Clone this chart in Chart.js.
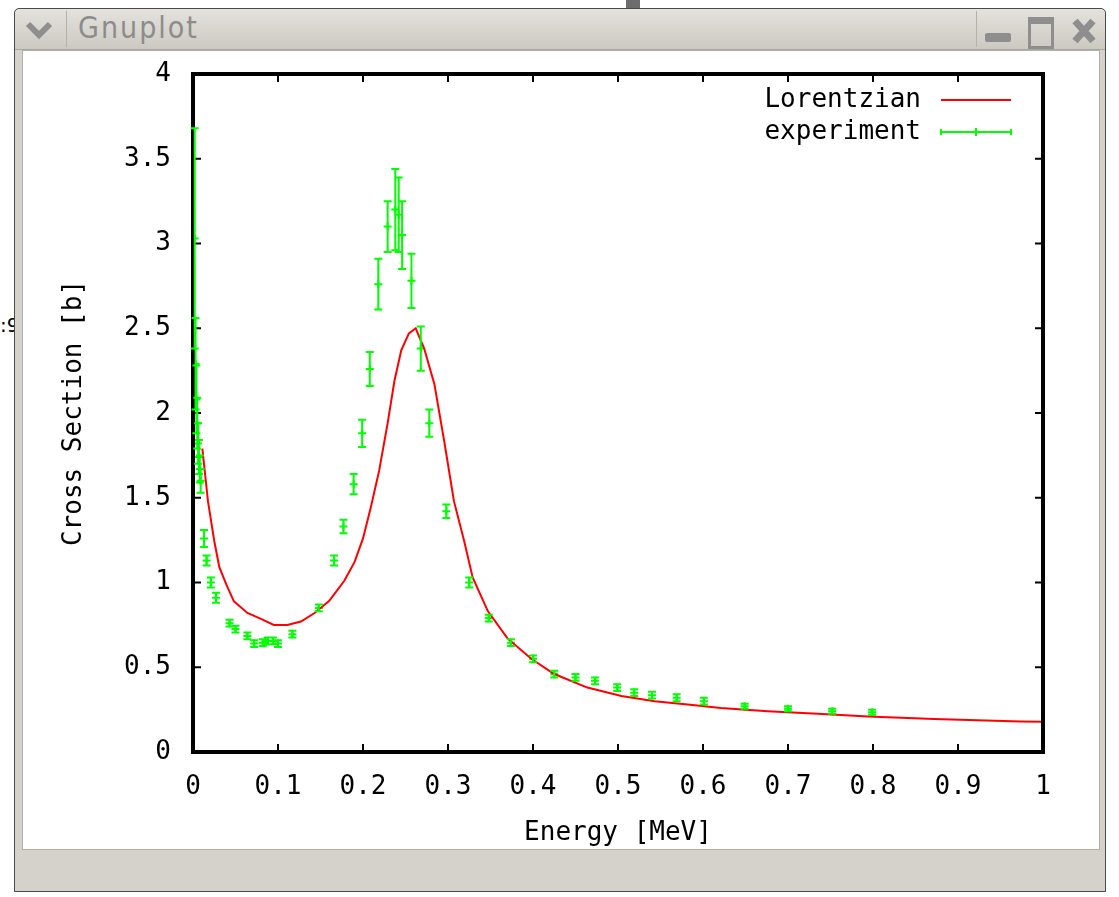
<!DOCTYPE html>
<html>
<head>
<meta charset="utf-8">
<title>Gnuplot</title>
<script src="https://cdn.jsdelivr.net/npm/chart.js@4.4.1/dist/chart.umd.min.js"></script>
<style>
  body { margin: 0; width: 1119px; height: 897px; overflow: hidden; background: #fff; position: relative; font-family: "DejaVu Sans", sans-serif; }
  #win { position: absolute; left: 14px; top: 8px; width: 1092px; height: 884px; background: #d5d2cb; border: 1px solid #4a4a4a; border-radius: 5px 5px 0 0; box-sizing: border-box; }
  #bar { position: absolute; left: 0; top: 0; right: 0; height: 40px; background: linear-gradient(#e4e2dd, #ccc9c1); border-bottom: 1px solid #a9a69f; border-radius: 5px 5px 0 0; }
  #bar .title { position: absolute; left: 63px; top: 1px; font-size: 30px; letter-spacing: 2px; color: #8c8c8c; font-family: "DejaVu Sans Condensed", "DejaVu Sans", sans-serif; }
  #bar .sep { position: absolute; top: 2px; width: 1px; height: 36px; background: #b4b1aa; }
  #client { position: absolute; left: 7px; top: 41px; width: 1076px; height: 798px; background: #fff; border: 1px solid #b3b0a9; }
  #side { position: absolute; left: 0; top: 313px; font-size: 20px; color: #000; }
</style>
</head>
<body>
<div id="side">:9</div>
<div style="position:absolute;left:626px;top:0;width:14px;height:8px;background:#6d6d6d"></div>
<div id="win">
  <div id="bar">
    <svg style="position:absolute;left:10px;top:11px" width="28" height="20"><path d="M3 4 L14 15 L25 4" fill="none" stroke="#8e8e8e" stroke-width="6"/></svg>
    <div class="sep" style="left:51px"></div>
    <div class="title">Gnuplot</div>
    <div class="sep" style="left:961px"></div>
    <div style="position:absolute;left:970px;top:24px;width:26px;height:9px;background:#8e8e8e;border-radius:2px"></div>
    <div style="position:absolute;left:1013px;top:8px;width:20px;height:22px;border:3px solid #8e8e8e;border-top-width:7px"></div>
    <svg style="position:absolute;left:1056px;top:8px" width="26" height="28"><path d="M4 4 L22 24 M22 4 L4 24" stroke="#8e8e8e" stroke-width="7"/></svg>
  </div>
  <div id="client"><canvas id="plot" width="1076" height="798"></canvas></div>
</div>
<script>
// Lorentzian fit curve
const lorX = [0.011, 0.0176, 0.025, 0.031, 0.039, 0.048, 0.064, 0.08, 0.095, 0.111, 0.127, 0.143, 0.16, 0.166,
  0.178, 0.19, 0.2, 0.209, 0.219, 0.229, 0.237, 0.245, 0.254, 0.262, 0.272, 0.284, 0.296, 0.307, 0.319, 0.329,
  0.347, 0.37, 0.398, 0.425, 0.464, 0.504, 0.543, 0.582, 0.621, 0.676, 0.735, 0.794, 0.872, 0.974, 1.0];
const lorY = [1.79, 1.48, 1.245, 1.09, 0.99, 0.89, 0.82, 0.785, 0.75, 0.75, 0.77, 0.82, 0.89, 0.93,
  1.01, 1.12, 1.26, 1.44, 1.66, 1.94, 2.19, 2.37, 2.47, 2.5, 2.38, 2.17, 1.82, 1.48, 1.245, 1.03,
  0.83, 0.67, 0.55, 0.46, 0.38, 0.33, 0.30, 0.28, 0.26, 0.24, 0.225, 0.21, 0.195, 0.18, 0.178];

// experiment: energy, cross section, error
const expX = [0.002, 0.003, 0.004, 0.005, 0.006, 0.007, 0.008, 0.009, 0.013, 0.016, 0.021, 0.027, 0.043, 0.05,
  0.064, 0.072, 0.082, 0.088, 0.094, 0.1, 0.117, 0.148, 0.166, 0.177, 0.189, 0.199, 0.208, 0.218, 0.229,
  0.238, 0.242, 0.246, 0.257, 0.268, 0.278, 0.298, 0.325, 0.348, 0.374, 0.4, 0.425, 0.45, 0.473, 0.499,
  0.519, 0.54, 0.569, 0.601, 0.649, 0.7, 0.752, 0.799];
const expY = [3.03, 2.29, 2.08, 1.94, 1.82, 1.74, 1.67, 1.6, 1.26, 1.13, 1.0, 0.91, 0.76, 0.725,
  0.685, 0.64, 0.645, 0.655, 0.655, 0.64, 0.695, 0.85, 1.13, 1.33, 1.58, 1.88, 2.26, 2.76, 3.1,
  3.2, 3.17, 3.05, 2.78, 2.38, 1.94, 1.42, 1.0, 0.79, 0.645, 0.55, 0.46, 0.44, 0.42, 0.38,
  0.35, 0.335, 0.32, 0.3, 0.27, 0.255, 0.24, 0.235];
const expErr = [0.65, 0.27, 0.2, 0.15, 0.12, 0.1, 0.08, 0.07, 0.05, 0.03, 0.03, 0.03, 0.02, 0.02,
  0.02, 0.02, 0.02, 0.02, 0.02, 0.02, 0.02, 0.02, 0.03, 0.04, 0.06, 0.08, 0.1, 0.15, 0.15,
  0.24, 0.22, 0.2, 0.16, 0.13, 0.08, 0.04, 0.03, 0.02, 0.02, 0.02, 0.02, 0.02, 0.02, 0.02,
  0.02, 0.02, 0.02, 0.02, 0.015, 0.015, 0.015, 0.015];

const xTicks = ['0', '0.1', '0.2', '0.3', '0.4', '0.5', '0.6', '0.7', '0.8', '0.9', '1'];
const yTicks = ['0', '0.5', '1', '1.5', '2', '2.5', '3', '3.5', '4'];

const FONT = '"DejaVu Sans Mono", "Liberation Mono", monospace';
const RED = '#ff0000';
const GREEN = '#00ff00';

// border with inward ticks (gnuplot style)
const framePlugin = {
  id: 'frame',
  afterDatasetsDraw(chart) {
    const { ctx, chartArea: a, scales: { x, y } } = chart;
    ctx.save();
    ctx.strokeStyle = '#000';
    ctx.lineWidth = 2;
    ctx.beginPath();
    x.ticks.forEach(t => {
      const px = x.getPixelForValue(t.value);
      ctx.moveTo(px, a.bottom); ctx.lineTo(px, a.bottom - 8);
      ctx.moveTo(px, a.top); ctx.lineTo(px, a.top + 8);
    });
    y.ticks.forEach(t => {
      const py = y.getPixelForValue(t.value);
      ctx.moveTo(a.left, py); ctx.lineTo(a.left + 8, py);
      ctx.moveTo(a.right, py); ctx.lineTo(a.right - 8, py);
    });
    ctx.stroke();
    ctx.lineWidth = 4;
    ctx.strokeRect(a.left, a.top, a.right - a.left, a.bottom - a.top);
    ctx.restore();
  }
};

// vertical error bars for the experiment set
const errorBarPlugin = {
  id: 'errorbars',
  afterDatasetsDraw(chart) {
    const { ctx, scales: { y } } = chart;
    const meta = chart.getDatasetMeta(1);
    ctx.save();
    ctx.strokeStyle = GREEN;
    ctx.lineWidth = 2;
    ctx.beginPath();
    meta.data.forEach((pt, i) => {
      const top = y.getPixelForValue(expY[i] + expErr[i]);
      const bot = y.getPixelForValue(expY[i] - expErr[i]);
      ctx.moveTo(pt.x, top); ctx.lineTo(pt.x, bot);
      ctx.moveTo(pt.x - 4, top); ctx.lineTo(pt.x + 4, top);
      ctx.moveTo(pt.x - 4, bot); ctx.lineTo(pt.x + 4, bot);
    });
    ctx.stroke();
    ctx.restore();
  }
};

// key in the top right corner
const keyPlugin = {
  id: 'gnukey',
  afterDraw(chart) {
    const { ctx, chartArea: a } = chart;
    const ds = chart.data.datasets;
    ctx.save();
    ctx.font = '26px ' + FONT;
    ctx.fillStyle = '#000';
    ctx.textAlign = 'right';
    ctx.textBaseline = 'middle';
    ds.forEach((d, i) => {
      const ly = a.top + 26 + i * 32;
      ctx.fillText(d.label, a.right - 122, ly);
      ctx.strokeStyle = d.borderColor;
      ctx.lineWidth = 2;
      ctx.beginPath();
      ctx.moveTo(a.right - 102, ly); ctx.lineTo(a.right - 32, ly);
      if (i === 1) {
        ctx.moveTo(a.right - 102, ly - 3); ctx.lineTo(a.right - 102, ly + 3);
        ctx.moveTo(a.right - 32, ly - 3); ctx.lineTo(a.right - 32, ly + 3);
        ctx.moveTo(a.right - 67, ly - 4); ctx.lineTo(a.right - 67, ly + 4);
      }
      ctx.stroke();
    });
    ctx.restore();
  }
};

new Chart(document.getElementById('plot'), {
  type: 'scatter',
  data: {
    datasets: [{
      label: 'Lorentzian',
      data: lorX.map((v, i) => ({ x: v, y: lorY[i] })),
      showLine: true,
      borderColor: RED,
      borderWidth: 2,
      pointRadius: 0,
      tension: 0
    }, {
      label: 'experiment',
      data: expX.map((v, i) => ({ x: v, y: expY[i] })),
      showLine: false,
      pointStyle: 'cross',
      pointRadius: 4,
      borderColor: GREEN,
      backgroundColor: GREEN,
      borderWidth: 2
    }]
  },
  options: {
    responsive: false,
    animation: false,
    layout: { padding: { left: 0, top: 23, right: 56, bottom: 0 } },
    plugins: { legend: { display: false }, tooltip: { enabled: false } },
    scales: {
      x: {
        type: 'linear', min: 0, max: 1,
        afterFit: s => { s.height = 97; },
        afterBuildTicks: s => { s.ticks = xTicks.map(v => ({ value: parseFloat(v) })); },
        grid: { display: false, drawTicks: false },
        border: { display: false },
        ticks: { padding: 20, color: '#000', font: { family: FONT, size: 26 }, callback: (v, i) => xTicks[i] },
        title: { display: true, text: 'Energy [MeV]', color: '#000', padding: { top: 0, bottom: 0 }, font: { family: FONT, size: 26 } }
      },
      y: {
        type: 'linear', min: 0, max: 4,
        afterFit: s => { s.width = 170; s.paddingTop = 0; s.paddingBottom = 0; },
        afterBuildTicks: s => { s.ticks = yTicks.map(v => ({ value: parseFloat(v) })); },
        grid: { display: false, drawTicks: false },
        border: { display: false },
        ticks: { padding: 22, color: '#000', font: { family: FONT, size: 26 }, callback: (v, i) => yTicks[i] },
        title: { display: true, text: 'Cross Section [b]', color: '#000', padding: { top: 36, bottom: 0 }, font: { family: FONT, size: 26 } }
      }
    }
  },
  plugins: [framePlugin, errorBarPlugin, keyPlugin]
});
</script>
</body>
</html>
